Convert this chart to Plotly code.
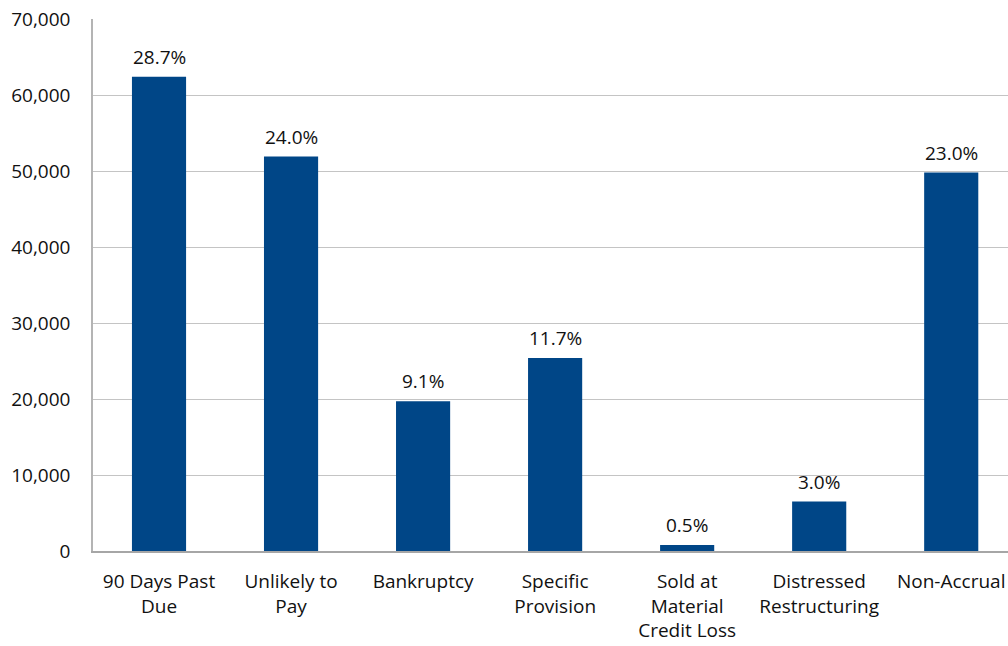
import plotly.graph_objects as go

categories = [
    "90 Days Past<br>Due",
    "Unlikely to<br>Pay",
    "Bankruptcy",
    "Specific<br>Provision",
    "Sold at<br>Material<br>Credit Loss",
    "Distressed<br>Restructuring",
    "Non-Accrual",
]
values = [62400, 51900, 19700, 25400, 800, 6500, 49800]
pct_labels = ["28.7%", "24.0%", "9.1%", "11.7%", "0.5%", "3.0%", "23.0%"]

font_family = "Open Sans"
text_color = "#111111"

fig = go.Figure(
    go.Bar(
        x=categories,
        y=values,
        marker=dict(color="#004687", line=dict(width=0)),
        width=0.41,
        hoverinfo="skip",
    )
)

for cat, val, lab in zip(categories, values, pct_labels):
    fig.add_annotation(
        x=cat, y=val, text=lab, showarrow=False,
        yanchor="bottom", yshift=5,
        font=dict(family=font_family, size=19, color=text_color),
    )

fig.update_layout(
    width=1008, height=646,
    margin=dict(l=93, r=0, t=19, b=95),
    paper_bgcolor="white", plot_bgcolor="white",
    showlegend=False,
    font=dict(family=font_family, size=19, color=text_color),
    xaxis=dict(
        range=[-0.5, 6.43], automargin=False,
        showline=True, linecolor="#a6a6a6", linewidth=2,
        ticks="", ticklabelstandoff=12,
        tickfont=dict(size=19),
        fixedrange=True,
    ),
    yaxis=dict(
        range=[0, 70000], dtick=10000, tickformat=",", automargin=False,
        showgrid=True, gridcolor="#c4c4c4", gridwidth=1,
        showline=True, linecolor="#b4b4b4", linewidth=1.5,
        zeroline=False,
        ticks="", ticklabelstandoff=17,
        tickfont=dict(size=19),
        fixedrange=True,
    ),
)

fig.write_html("out.html")
